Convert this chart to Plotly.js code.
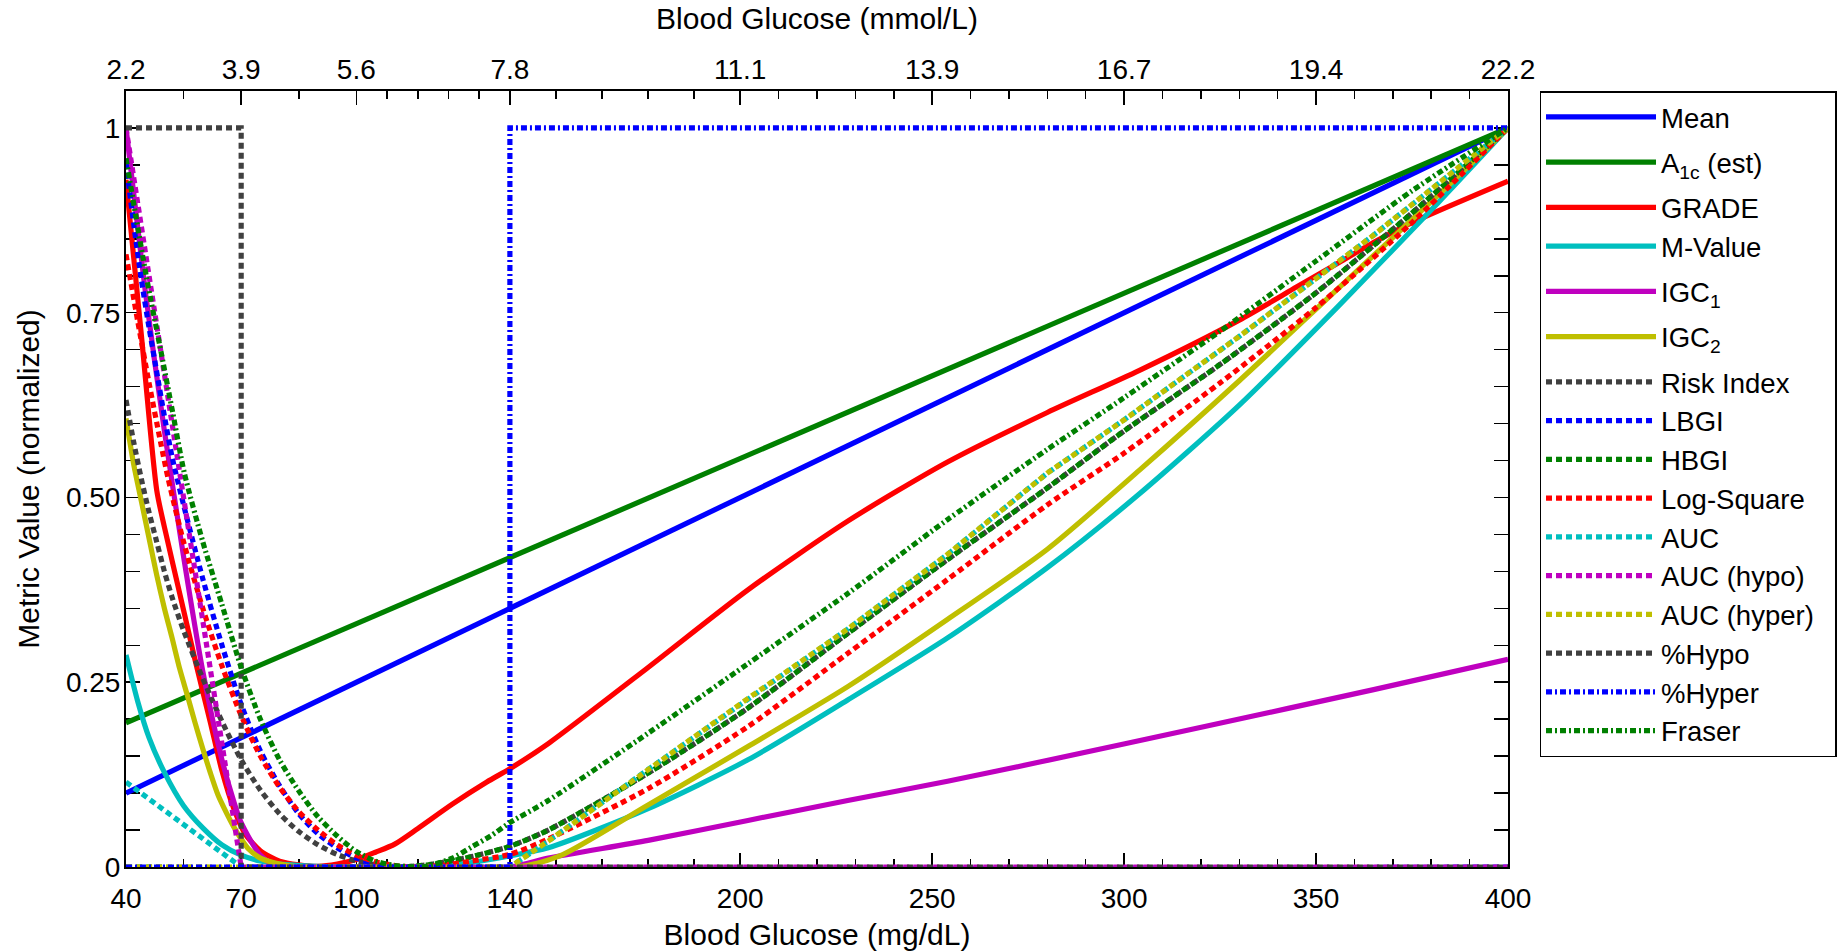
<!DOCTYPE html>
<html>
<head>
<meta charset="utf-8">
<script src="https://cdn.plot.ly/plotly-3.0.1.min.js"></script>
<style>html,body{margin:0;padding:0;background:#fff;}#chart{width:1843px;height:951px;}</style>
</head>
<body>
<div id="chart"></div>
<script>
// ---- data (x = blood glucose mg/dL, y = normalized metric) ----
const tickMgdl = [40, 70, 100, 140, 200, 250, 300, 350, 400];
const tickMmol = ['2.2', '3.9', '5.6', '7.8', '11.1', '13.9', '16.7', '19.4', '22.2'];
const minorMgdl = [55, 85, 108, 116, 124, 132, 152, 164, 176, 188, 210, 220, 230, 240, 260, 270, 280, 290, 310, 320, 330, 340, 360, 370, 380, 390];
const yTickVals = [0, 0.25, 0.5, 0.75, 1];
const yTickText = ['0', '0.25', '0.50', '0.75', '1'];

const meanX = [40, 400];
const meanY = [0.10, 1.00];

const a1cX = [40, 400];
const a1cY = [0.195, 1.00];

const gradeX = [40, 44, 48, 50, 54, 58, 62, 65, 68, 71, 75, 80, 85, 90, 95, 100, 105, 110, 116, 125, 134, 140, 150, 176, 202, 228, 254, 280, 304, 330, 345, 356, 366, 375, 400];
const gradeY = [0.93, 0.72, 0.51, 0.46, 0.37, 0.28, 0.195, 0.13, 0.08, 0.045, 0.022, 0.008, 0.003, 0.001, 0.004, 0.01, 0.02, 0.031, 0.052, 0.085, 0.115, 0.133, 0.167, 0.27, 0.375, 0.468, 0.548, 0.615, 0.672, 0.74, 0.785, 0.818, 0.848, 0.872, 0.928];

const mValueX = [40, 43, 46, 50, 55, 60, 65, 70, 75, 80, 90, 100, 120, 130, 140, 150, 176, 202, 228, 254, 280, 304, 330, 356, 382, 400];
const mValueY = [0.287, 0.225, 0.175, 0.128, 0.083, 0.053, 0.030, 0.016, 0.008, 0.004, 0.001, 0, 0, 0.006, 0.015, 0.026, 0.079, 0.145, 0.226, 0.31, 0.405, 0.505, 0.625, 0.76, 0.9, 1.0];

const igc1X = [40, 45, 50, 55, 60, 65, 68, 70, 75, 80, 140, 150, 176, 202, 228, 254, 278, 321, 365, 400];
const igc1Y = [1.0, 0.78, 0.59, 0.42, 0.265, 0.145, 0.09, 0.06, 0.016, 0, 0, 0.012, 0.036, 0.063, 0.09, 0.116, 0.142, 0.19, 0.24, 0.281];

const igc2X = [40, 42, 44, 46, 48, 50, 52, 54, 56, 58, 60, 62, 64, 66, 68, 70, 72, 75, 80, 85, 142, 153, 176, 202, 228, 254, 280, 304, 330, 356, 382, 400];
const igc2Y = [0.607, 0.545, 0.495, 0.445, 0.395, 0.35, 0.31, 0.268, 0.232, 0.195, 0.16, 0.127, 0.097, 0.075, 0.055, 0.038, 0.024, 0.012, 0.004, 0, 0, 0.015, 0.084, 0.163, 0.244, 0.335, 0.43, 0.537, 0.658, 0.784, 0.91, 1.0];

const riskX = [40, 42, 44, 46, 48, 50, 52, 55, 60, 65, 70, 75, 80, 85, 90, 95, 100, 105, 112, 120, 130, 140, 150, 176, 202, 228, 254, 280, 300, 325, 350, 375, 400];
const riskY = [0.632, 0.575, 0.525, 0.48, 0.44, 0.40, 0.365, 0.32, 0.255, 0.197, 0.145, 0.104, 0.072, 0.048, 0.03, 0.017, 0.008, 0.003, 0, 0.004, 0.014, 0.028, 0.05, 0.127, 0.215, 0.316, 0.416, 0.513, 0.59, 0.68, 0.777, 0.885, 1.0];

const lbgiX = [40, 42, 44, 46, 48, 50, 52, 55, 60, 65, 70, 75, 80, 85, 90, 95, 100, 105, 112, 400];
const lbgiY = [0.953, 0.87, 0.795, 0.73, 0.67, 0.61, 0.555, 0.49, 0.39, 0.30, 0.22, 0.157, 0.11, 0.072, 0.045, 0.026, 0.012, 0.004, 0, 0];

const hbgiX = [40, 112, 120, 130, 140, 150, 176, 202, 228, 254, 280, 300, 325, 350, 375, 400];
const hbgiY = [0, 0, 0.004, 0.014, 0.028, 0.05, 0.127, 0.215, 0.316, 0.416, 0.513, 0.59, 0.68, 0.777, 0.885, 1.0];

const logSqX = [40, 43, 46, 49, 51, 55, 60, 65, 70, 75, 80, 85, 90, 95, 100, 105, 110, 116, 125, 130, 140, 150, 176, 202, 228, 254, 280, 300, 325, 350, 375, 400];
const logSqY = [0.829, 0.74, 0.655, 0.575, 0.525, 0.44, 0.35, 0.272, 0.205, 0.15, 0.108, 0.075, 0.05, 0.03, 0.016, 0.007, 0.002, 0, 0.004, 0.008, 0.017, 0.038, 0.106, 0.19, 0.289, 0.389, 0.49, 0.56, 0.655, 0.757, 0.872, 1.0];

const aucX = [40, 70, 140, 150, 176, 202, 228, 254, 280, 300, 330, 365, 400];
const aucY = [0.115, 0, 0, 0.035, 0.132, 0.228, 0.322, 0.423, 0.533, 0.605, 0.718, 0.855, 1.0];

const aucHypoX = [40, 45, 50, 55, 60, 65, 70, 400];
const aucHypoY = [1.0, 0.835, 0.67, 0.5, 0.335, 0.168, 0, 0];

const aucHyperX = [40, 140, 150, 176, 202, 228, 254, 280, 300, 330, 365, 400];
const aucHyperY = [0, 0, 0.035, 0.132, 0.228, 0.322, 0.423, 0.533, 0.605, 0.718, 0.855, 1.0];

const pctHypoX = [40, 70, 400];
const pctHypoY = [1, 0, 0];

const pctHyperX = [40, 140, 400];
const pctHyperY = [0, 1, 1];

const fraserX = [40, 45.3, 49.2, 52.2, 55.2, 60, 65, 70, 75, 80, 85, 90, 95, 100, 105, 110, 117, 120, 125, 130, 135, 140, 150, 176, 202, 228, 254, 280, 300, 325, 350, 375, 400];
const fraserY = [0.959, 0.799, 0.695, 0.614, 0.533, 0.44, 0.355, 0.27, 0.20, 0.145, 0.103, 0.068, 0.042, 0.021, 0.008, 0.002, 0, 0.003, 0.012, 0.027, 0.042, 0.06, 0.09, 0.181, 0.275, 0.370, 0.470, 0.565, 0.635, 0.725, 0.82, 0.915, 1.0];

// ---- styles ----
const C = {
  blue: '#0000ff', green: '#008000', red: '#ff0000', cyan: '#00bfbf',
  magenta: '#bf00bf', olive: '#bfbf00', gray: '#404040'
};
const W = 5.2;
const DASH = '6px,4px';
const DASHDOT = '6px,3px,2px,3px';
const NB = '\u00a0';

function tr(name, x, y, color, dash, shape, group) {
  const t = {
    type: 'scatter', mode: 'lines', name: name, x: x, y: y,
    line: {color: color, width: W, dash: dash || 'solid', shape: shape || 'linear'},
    legendgroup: group, hoverinfo: 'skip'
  };
  if (shape === 'spline') t.line.smoothing = 0.7;
  return t;
}

const data = [
  tr('Mean', meanX, meanY, C.blue, null, null, 'g1'),
  tr('A<sub>1c</sub> (est)', a1cX, a1cY, C.green, null, null, 'g2'),
  tr('GRADE', gradeX, gradeY, C.red, null, 'spline', 'g3'),
  tr('M-Value', mValueX, mValueY, C.cyan, null, 'spline', 'g3'),
  tr('IGC<sub>1</sub>', igc1X, igc1Y, C.magenta, null, 'spline', 'g4'),
  tr('IGC<sub>2</sub>', igc2X, igc2Y, C.olive, null, 'spline', 'g5'),
  tr('Risk Index', riskX, riskY, C.gray, DASH, 'spline', 'g6'),
  tr('LBGI', lbgiX, lbgiY, C.blue, DASH, 'spline', 'g6'),
  tr('HBGI', hbgiX, hbgiY, C.green, DASH, 'spline', 'g6'),
  tr('Log-Square', logSqX, logSqY, C.red, DASH, 'spline', 'g6'),
  tr('AUC', aucX, aucY, C.cyan, DASH, null, 'g6'),
  tr('AUC (hypo)', aucHypoX, aucHypoY, C.magenta, DASH, null, 'g6'),
  tr('AUC (hyper)' + NB + NB, aucHyperX, aucHyperY, C.olive, DASH, null, 'g6'),
  tr('%Hypo', pctHypoX, pctHypoY, C.gray, DASH, 'hv', 'g6'),
  tr('%Hyper', pctHyperX, pctHyperY, C.blue, DASHDOT, 'hv', 'g6'),
  tr('Fraser', fraserX, fraserY, C.green, DASHDOT, 'spline', 'g6'),
  // carrier for the top (mmol/L) axis, not visible
  {type: 'scatter', mode: 'lines', x: meanX, y: meanY, xaxis: 'x2', yaxis: 'y',
   showlegend: false, hoverinfo: 'skip', opacity: 0, line: {width: 0}}
];

const FONT = 'Liberation Sans, Arial, Helvetica, sans-serif';
const TICKFONT = {family: FONT, size: 28, color: '#000'};
const TITLEFONT = {family: FONT, size: 30, color: '#000'};

const layout = {
  width: 1843, height: 951,
  paper_bgcolor: '#fff', plot_bgcolor: '#fff',
  margin: {l: 126, r: 335, t: 91, b: 84, pad: 0, autoexpand: false},
  showlegend: true,
  font: {family: FONT, color: '#000'},
  xaxis: {
    range: [40, 400], tickmode: 'array', tickvals: tickMgdl, ticktext: tickMgdl.map(String),
    ticks: 'inside', ticklen: 14, tickwidth: 1.5, tickcolor: '#000',
    minor: {tickmode: 'array', tickvals: minorMgdl, ticks: 'inside', ticklen: 8, tickwidth: 1.5, tickcolor: '#000'},
    showline: true, linecolor: '#000', linewidth: 2, mirror: false,
    showgrid: false, zeroline: false, layer: 'below traces',
    tickfont: TICKFONT, ticklabelstandoff: 5,
    title: {text: 'Blood Glucose (mg/dL)', font: TITLEFONT, standoff: 13}
  },
  xaxis2: {
    overlaying: 'x', side: 'top', anchor: 'y',
    range: [40, 400], tickmode: 'array', tickvals: tickMgdl, ticktext: tickMmol,
    ticks: 'inside', ticklen: 14, tickwidth: 1.5, tickcolor: '#000',
    minor: {tickmode: 'array', tickvals: minorMgdl, ticks: 'inside', ticklen: 8, tickwidth: 1.5, tickcolor: '#000'},
    showline: true, linecolor: '#000', linewidth: 2,
    showgrid: false, zeroline: false, layer: 'below traces',
    tickfont: TICKFONT, ticklabelstandoff: -1,
    title: {text: 'Blood Glucose (mmol/L)', font: TITLEFONT, standoff: 15}
  },
  yaxis: {
    range: [0, 1.05], tickmode: 'array', tickvals: yTickVals, ticktext: yTickText,
    ticks: 'inside', ticklen: 14, tickwidth: 1.5, tickcolor: '#000',
    minor: {dtick: 0.05, tick0: 0, ticks: 'inside', ticklen: 8, tickwidth: 1.5, tickcolor: '#000'},
    showline: true, linecolor: '#000', linewidth: 2, mirror: 'allticks',
    showgrid: false, zeroline: false, layer: 'below traces',
    tickfont: TICKFONT, ticklabelstandoff: -2,
    title: {text: 'Metric Value (normalized)', font: TITLEFONT, standoff: 17}
  },
  legend: {
    x: 1.0228, xanchor: 'left', y: 1, yanchor: 'top',
    font: {family: FONT, size: 27.5, color: '#000'},
    bgcolor: '#fff', bordercolor: '#000', borderwidth: 1.5,
    itemwidth: 110, tracegroupgap: 6.5, traceorder: 'grouped'
  }
};

Plotly.newPlot('chart', data, layout, {displayModeBar: false, staticPlot: true});
</script>
</body>
</html>
